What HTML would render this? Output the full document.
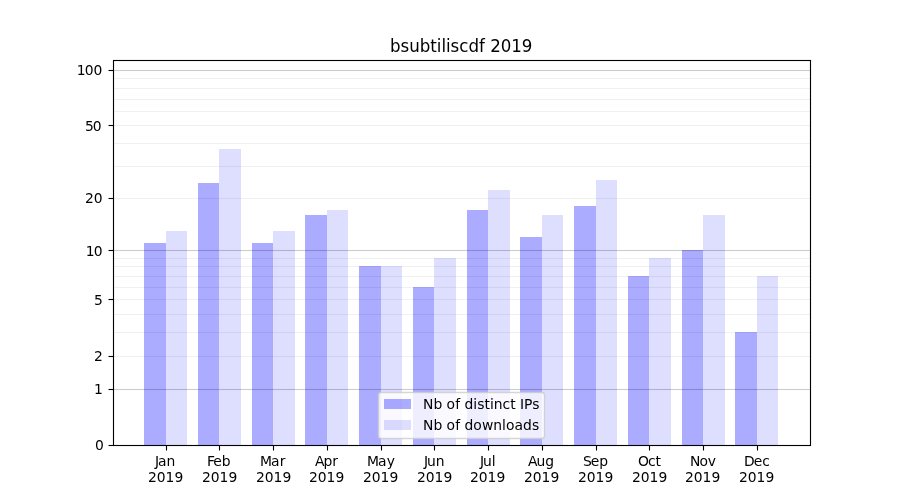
<!DOCTYPE html>
<html lang="en"><head><meta charset="utf-8"><title>bsubtiliscdf 2019</title>
<style>html,body{margin:0;padding:0;background:#fff;overflow:hidden}svg{display:block}text{font-family:"DejaVu Sans", "Liberation Sans", sans-serif;fill:#000}</style></head><body>
<svg width="900" height="500" viewBox="0 0 900 500">
<rect width="900" height="500" fill="#fff"/>
<g fill="#0000ff" fill-opacity="0.33">
<rect x="144" y="243" width="22" height="202"/>
<rect x="198" y="183" width="21" height="262"/>
<rect x="252" y="243" width="21" height="202"/>
<rect x="305" y="215" width="22" height="230"/>
<rect x="359" y="266" width="22" height="179"/>
<rect x="413" y="287" width="21" height="158"/>
<rect x="467" y="210" width="21" height="235"/>
<rect x="520" y="237" width="22" height="208"/>
<rect x="574" y="206" width="22" height="239"/>
<rect x="628" y="276" width="21" height="169"/>
<rect x="682" y="250" width="21" height="195"/>
<rect x="735" y="332" width="22" height="113"/>
</g><g fill="#0000ff" fill-opacity="0.13">
<rect x="166" y="231" width="21" height="214"/>
<rect x="219" y="149" width="22" height="296"/>
<rect x="273" y="231" width="22" height="214"/>
<rect x="327" y="210" width="21" height="235"/>
<rect x="381" y="266" width="21" height="179"/>
<rect x="434" y="258" width="22" height="187"/>
<rect x="488" y="190" width="22" height="255"/>
<rect x="542" y="215" width="21" height="230"/>
<rect x="596" y="180" width="21" height="265"/>
<rect x="649" y="258" width="22" height="187"/>
<rect x="703" y="215" width="22" height="230"/>
<rect x="757" y="276" width="21" height="169"/>
</g>
<g fill="#000">
<rect x="113.5" y="388.945" width="697.0" height="1.11" fill-opacity="0.2"/>
<rect x="113.5" y="355.945" width="697.0" height="1.11" fill-opacity="0.06"/>
<rect x="113.5" y="331.945" width="697.0" height="1.11" fill-opacity="0.06"/>
<rect x="113.5" y="313.945" width="697.0" height="1.11" fill-opacity="0.06"/>
<rect x="113.5" y="298.945" width="697.0" height="1.11" fill-opacity="0.06"/>
<rect x="113.5" y="286.945" width="697.0" height="1.11" fill-opacity="0.06"/>
<rect x="113.5" y="275.945" width="697.0" height="1.11" fill-opacity="0.06"/>
<rect x="113.5" y="265.945" width="697.0" height="1.11" fill-opacity="0.06"/>
<rect x="113.5" y="257.945" width="697.0" height="1.11" fill-opacity="0.06"/>
<rect x="113.5" y="249.945" width="697.0" height="1.11" fill-opacity="0.2"/>
<rect x="113.5" y="197.945" width="697.0" height="1.11" fill-opacity="0.06"/>
<rect x="113.5" y="165.945" width="697.0" height="1.11" fill-opacity="0.06"/>
<rect x="113.5" y="142.945" width="697.0" height="1.11" fill-opacity="0.06"/>
<rect x="113.5" y="124.945" width="697.0" height="1.11" fill-opacity="0.06"/>
<rect x="113.5" y="110.945" width="697.0" height="1.11" fill-opacity="0.06"/>
<rect x="113.5" y="98.945" width="697.0" height="1.11" fill-opacity="0.06"/>
<rect x="113.5" y="87.945" width="697.0" height="1.11" fill-opacity="0.06"/>
<rect x="113.5" y="77.945" width="697.0" height="1.11" fill-opacity="0.06"/>
<rect x="113.5" y="69.945" width="697.0" height="1.11" fill-opacity="0.2"/>
</g>
<g stroke="#000" stroke-width="1.11">
<line x1="166.50" y1="445.50" x2="166.50" y2="450.50"/>
<line x1="219.50" y1="445.50" x2="219.50" y2="450.50"/>
<line x1="273.50" y1="445.50" x2="273.50" y2="450.50"/>
<line x1="327.50" y1="445.50" x2="327.50" y2="450.50"/>
<line x1="381.50" y1="445.50" x2="381.50" y2="450.50"/>
<line x1="434.50" y1="445.50" x2="434.50" y2="450.50"/>
<line x1="488.50" y1="445.50" x2="488.50" y2="450.50"/>
<line x1="542.50" y1="445.50" x2="542.50" y2="450.50"/>
<line x1="596.50" y1="445.50" x2="596.50" y2="450.50"/>
<line x1="649.50" y1="445.50" x2="649.50" y2="450.50"/>
<line x1="703.50" y1="445.50" x2="703.50" y2="450.50"/>
<line x1="757.50" y1="445.50" x2="757.50" y2="450.50"/>
<line x1="108.50" y1="445.50" x2="113.50" y2="445.50"/>
<line x1="108.50" y1="389.50" x2="113.50" y2="389.50"/>
<line x1="108.50" y1="356.50" x2="113.50" y2="356.50"/>
<line x1="108.50" y1="299.50" x2="113.50" y2="299.50"/>
<line x1="108.50" y1="250.50" x2="113.50" y2="250.50"/>
<line x1="108.50" y1="198.50" x2="113.50" y2="198.50"/>
<line x1="108.50" y1="125.50" x2="113.50" y2="125.50"/>
<line x1="108.50" y1="70.50" x2="113.50" y2="70.50"/>
</g>
<rect x="113.5" y="60.5" width="697.0" height="385.0" fill="none" stroke="#000" stroke-width="1.11"/>
<rect x="378.5" y="392.5" width="166" height="46" rx="2.78" ry="2.78" fill="#fff" fill-opacity="0.8" stroke="#ccc" stroke-opacity="0.8" stroke-width="1.39"/>
<rect x="384" y="399" width="27" height="10" fill="#0000ff" fill-opacity="0.33"/>
<rect x="384" y="420" width="27" height="10" fill="#0000ff" fill-opacity="0.13"/>
<g font-size="13.89px">
<text x="94.91" y="450">0</text>
<text x="93.91" y="394">1</text>
<text x="93.91" y="361">2</text>
<text x="93.91" y="305">5</text>
<text x="85.66 93.78" y="256">10</text>
<text x="84.91 93.66" y="203">20</text>
<text x="84.91 92.66" y="131">50</text>
<text x="76.66 84.78 93.53" y="75">100</text>
<text x="154.89 157.89 166.51" y="466">Jan</text>
<text x="148.07 156.82 165.57 174.45" y="482">2019</text>
<text x="207.00 213.25 221.75" y="466">Feb</text>
<text x="202.06 210.81 219.56 228.44" y="482">2019</text>
<text x="259.98 270.98 279.86" y="466">Mar</text>
<text x="256.05 264.80 273.55 282.42" y="482">2019</text>
<text x="314.97 323.47 332.35" y="466">Apr</text>
<text x="309.03 317.78 326.53 335.41" y="482">2019</text>
<text x="366.96 377.96 386.83" y="466">May</text>
<text x="363.02 371.77 380.52 389.40" y="482">2019</text>
<text x="423.88 426.88 435.63" y="466">Jun</text>
<text x="417.01 425.76 434.51 443.38" y="482">2019</text>
<text x="479.93 482.93 491.68" y="466">Jul</text>
<text x="470.12 478.87 487.62 496.49" y="482">2019</text>
<text x="527.92 536.42 545.17" y="466">Aug</text>
<text x="524.10 532.85 541.60 550.48" y="482">2019</text>
<text x="582.90 590.65 599.15" y="466">Sep</text>
<text x="578.09 586.84 595.59 604.47" y="482">2019</text>
<text x="637.95 648.08 655.45" y="466">Oct</text>
<text x="632.08 640.83 649.58 658.45" y="482">2019</text>
<text x="689.88 699.50 707.75" y="466">Nov</text>
<text x="685.06 693.81 702.56 711.44" y="482">2019</text>
<text x="743.99 753.74 762.24" y="466">Dec</text>
<text x="739.05 747.80 756.55 765.43" y="482">2019</text>
<text x="423.07 433.44 442.32 446.44 455.19 460.19 464.57 473.19 477.32 484.44 489.94 493.82 502.57 510.19 515.69 520.07 524.07 532.19" y="409">Nb of distinct IPs</text>
<text x="423.07 433.44 442.32 446.44 455.19 460.19 464.57 473.19 481.94 493.32 502.07 505.94 514.44 523.07 531.94" y="430">Nb of downloads</text>
</g>
<text transform="translate(0,52) scale(1,1.08)" x="390.06 400.56 409.31 419.81 430.31 436.81 441.44 446.06 450.44 459.19 468.56 479.06 484.94 490.19 500.81 511.31 521.69" y="0" font-size="16.67px">bsubtiliscdf 2019</text>
</svg></body></html>
